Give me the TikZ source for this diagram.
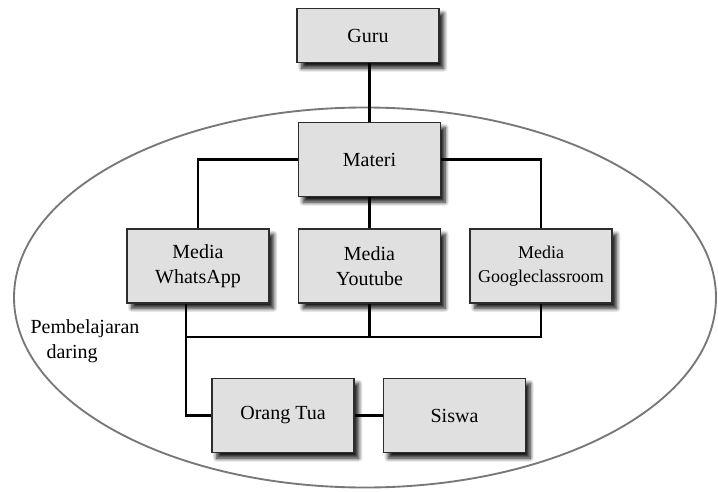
\documentclass[tikz,border=0pt]{standalone}
\usepackage{fontspec}
\setmainfont{Liberation Serif}
\usepackage{tikz}
\usetikzlibrary{shadows.blur}
\definecolor{boxGray}{RGB}{224,224,224}
\definecolor{boxEdge}{RGB}{45,45,45}
\definecolor{ovalGray}{RGB}{120,120,120}

\begin{document}
\begin{tikzpicture}[x=0.75pt,y=-0.75pt,
    card/.style={draw=boxEdge, line width=0.8pt, fill=boxGray, minimum width=106.5pt,
      align=center, font=\fontsize{15}{19}\selectfont,
      blur shadow={shadow xshift=3.5pt, shadow yshift=-4pt, shadow blur radius=3pt,
        shadow blur steps=8, shadow opacity=90}},
    wire/.style={black, line width=1.6pt}]
    \useasboundingbox (0,0) rectangle (718,492);

    % oval
    \draw[ovalGray, line width=1.4pt] (365,297.5) ellipse [x radius=351, y radius=190];

    % boxes
    \node[card, minimum height=41pt] (guru) at (368,35.5) {Guru};
    \node[card, minimum height=56pt] (materi) at (369.5,159.5) {Materi};
    \node[card, minimum height=55.5pt] (whatsapp) at (198,266) {Media\\WhatsApp};
    \node[card, minimum height=55.5pt] (youtube) at (369.5,266) {Media\\Youtube};
    \node[card, minimum height=55.5pt, font=\fontsize{13.5}{18}\selectfont] (google) at (541,266) {Media\\Googleclassroom};
    \node[card, minimum height=56pt] (orangtua) at (283,415.5) {Orang Tua};
    \node[card, minimum height=56pt] (siswa) at (454.5,415.5) {Siswa};

    % label
    \node[align=left, font=\fontsize{15}{19}\selectfont] (daring) at (85,341) {Pembelajaran\\\hspace{0.8em}daring};

    % connectors
    \coordinate (busL) at (186,337);
    \draw[wire] (guru.south -| materi.north) -- (materi.north);
    \draw[wire] (materi.west) -| (whatsapp.north);
    \draw[wire] (materi.east) -| (google.north);
    \draw[wire] (materi) -- (youtube);
    \draw[wire] (whatsapp.south -| busL) -- (busL |- orangtua) -- (orangtua.west);
    \draw[wire] (busL) -| (google.south);
    \draw[wire] (youtube.south) -- (youtube.south |- busL);
    \draw[wire] (orangtua) -- (siswa);
\end{tikzpicture}
\end{document}
